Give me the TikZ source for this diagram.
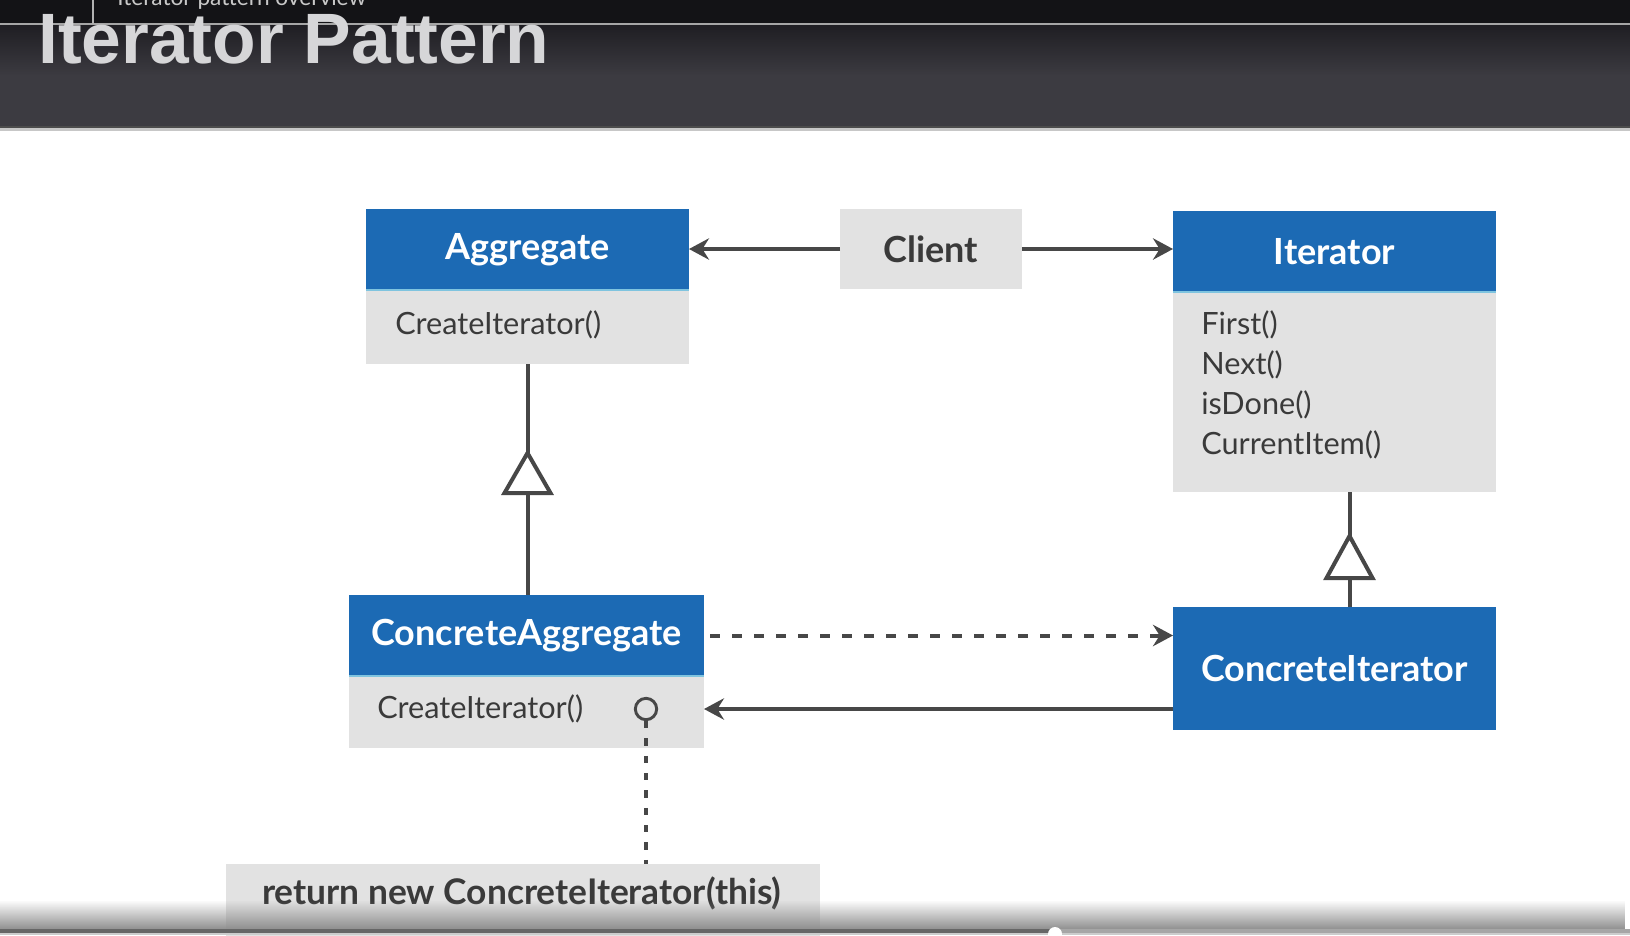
\documentclass[tikz,border=0pt]{standalone}
\usepackage{fontspec}
\setmainfont{Lato}
\newfontfamily\titlefont{Liberation Sans}
\usetikzlibrary{arrows.meta,calc,fadings}
\definecolor{hblue}{HTML}{1C6AB4}
\definecolor{hline}{HTML}{7FC4DF}
\definecolor{bgray}{HTML}{E2E2E2}
\definecolor{lcol}{HTML}{474747}
\definecolor{tgray}{HTML}{3A3A3A}
\definecolor{barA}{HTML}{131316}
\definecolor{barB}{HTML}{1F1E23}
\definecolor{barC}{HTML}{3C3B41}
\definecolor{titlecol}{HTML}{D6D6D8}
\definecolor{subcol}{HTML}{C8C8C8}
\begin{document}
\begin{tikzpicture}[x=0.75pt,y=-0.75pt,
  sz/.style 2 args={minimum width=#1*0.75pt, minimum height=#2*0.75pt},
  hdr/.style={fill=hblue, text=white, inner sep=0pt, outer sep=0pt, anchor=north west,
    font=\bfseries\fontsize{27}{32}\selectfont},
  bodybox/.style={fill=bgray, inner sep=0pt, outer sep=0pt, anchor=north west},
  meth/.style={text=tgray, inner sep=0pt, anchor=west, font=\fontsize{23}{30}\selectfont},
  sepline/.style={draw=hline, line width=1.2pt},
  conn/.style={draw=lcol, line width=3pt},
  arr/.style={conn, -{Stealth[length=15pt,width=16pt,inset=5pt]}},
  dashconn/.style={conn, dash pattern=on 7.5pt off 9pt},
  dotconn/.style={conn, line width=2.6pt, dash pattern=on 5.5pt off 7.5pt},
  gentri/.style={draw=lcol, line width=3pt, fill=white, line join=miter},
]
\useasboundingbox (0,0) rectangle (1630,935);
\clip (0,0) rectangle (1630,935);
\fill[white] (0,0) rectangle (1630,935);

% top bar
\fill[barA] (0,0) rectangle (1630,25);
\shade[top color=barB, bottom color=barC] (0,25) rectangle (1630,76);
\fill[barC] (0,75) rectangle (1630,128);
\fill[black!70] (0,126) rectangle (1630,128);
\fill[black!22] (0,128) rectangle (1630,131);
\draw[gray!70, line width=1pt] (0,24) -- (1630,24);
\draw[gray!60, line width=0.8pt] (93,0) -- (93,24);
\node[anchor=base west, inner sep=0pt, text=subcol, font=\fontsize{17}{19}\selectfont] (sub) at (117,5) {Iterator pattern overview};
\node[anchor=base west, inner sep=0pt, text=titlecol, font=\titlefont\bfseries\fontsize{53.5}{60}\selectfont] (title) at (38,63) {Iterator Pattern};

% Aggregate
\node[hdr, sz={323}{81}] (aggH) at (366,209) {Aggregate};
\node[bodybox, sz={323}{74}] (aggB) at (366,290) {};
\draw[sepline] (aggH.south west) -- (aggH.south east);
\node[meth] (aggM) at (395,325) {CreateIterator()};

% Client
\node[bodybox, sz={182}{80}, text=tgray, font=\bfseries\fontsize{27}{32}\selectfont] (client) at (840,209) {Client};

% Iterator
\node[hdr, sz={323}{81}] (iterH) at (1173,211) {Iterator};
\node[bodybox, sz={323}{200}] (iterB) at (1173,292) {};
\draw[sepline] (iterH.south west) -- (iterH.south east);
\node[meth, align=left] (iterM) at (1201,385) {First()\\Next()\\isDone()\\CurrentItem()};

% ConcreteAggregate
\node[hdr, sz={355}{81}] (caggH) at (349,595) {ConcreteAggregate};
\node[bodybox, sz={355}{72}] (caggB) at (349,676) {};
\draw[sepline] (caggH.south west) -- (caggH.south east);
\node[meth] (caggM) at (377,709) {CreateIterator()};
\node[circle, draw=lcol, line width=2.2pt, fill=bgray, minimum size=16pt, inner sep=0pt] (rc) at (646,709) {};

% ConcreteIterator
\node[hdr, sz={323}{123}] (ci) at (1173,607) {ConcreteIterator};

% return note
\node[bodybox, sz={594}{90}] (ret) at (226,864) {};
\node[anchor=west, inner sep=0pt, text=tgray, font=\bfseries\fontsize{26.5}{30}\selectfont] (retT) at (262,893) {return new ConcreteIterator(this)};

% connectors
\draw[arr] (client.west) -- (client.west -| aggH.east);
\draw[arr] (client.east) -- (client.east -| iterH.west);

\draw[conn] (aggB.south) -- (aggB.south |- caggH.north);
\coordinate (ta) at ($(aggB.south)+(0,89)$);
\draw[gentri] (ta) -- ++(23,40) -- ++(-46,0) -- cycle;

\coordinate (ib) at ($(iterB.south)+(15,0)$);
\draw[conn] (ib) -- (ib |- ci.north);
\coordinate (tb) at ($(ib)+(0,44)$);
\draw[gentri] (tb) -- ++(23,42) -- ++(-46,0) -- cycle;

\draw[dashconn, -{Stealth[length=15pt,width=16pt,inset=5pt]}] ($(caggH.east)+(6,0)$) -- ($(caggH.east -| ci.west)$);
\draw[arr] (ci.west |- rc) -- (caggB.east |- rc);
\draw[dotconn] (rc.south) -- (rc.south |- ret.north);

% bottom overlay (player bar)
\fill[black!45, path fading=north] (0,900) rectangle (1630,930);
\fill[black!60] (0,929) rectangle (1055,933);
\fill[black!35] (1055,929) rectangle (1630,933);
\fill[black!20] (0,933) rectangle (1630,935);
\fill[white] (1055,934) circle (7);
\end{tikzpicture}
\end{document}
